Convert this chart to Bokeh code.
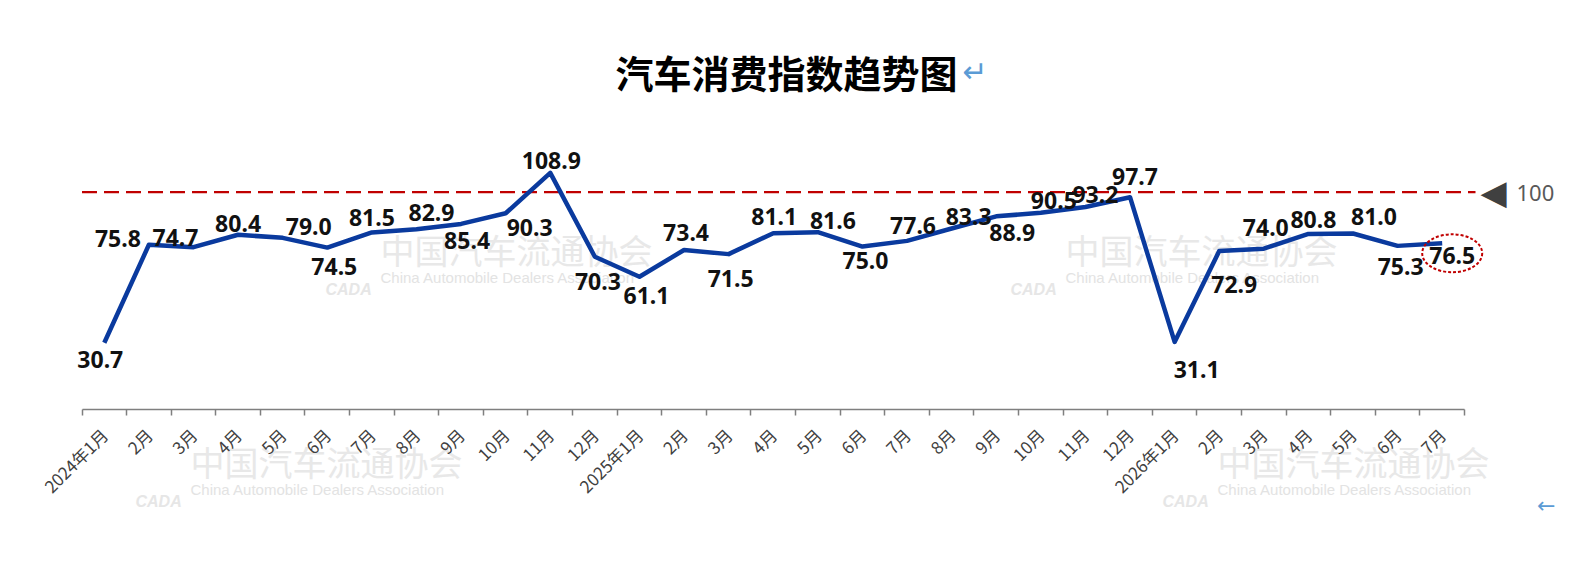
import math
from bokeh.plotting import figure
from bokeh.models import ColumnDataSource, Range1d, LinearAxis, FixedTicker, Label
from bokeh.core.properties import value
from bokeh.transform import dodge
from bokeh.embed import file_html
from bokeh.resources import INLINE

# ---------------- data ----------------
months = ["2024年1月", "2月", "3月", "4月", "5月", "6月", "7月", "8月", "9月", "10月", "11月", "12月",
          "2025年1月", "2月", "3月", "4月", "5月", "6月", "7月", "8月", "9月", "10月", "11月", "12月",
          "2026年1月", "2月", "3月", "4月", "5月", "6月", "7月"]
index_values = [30.7, 75.8, 74.7, 80.4, 79.0, 74.5, 81.5, 82.9, 85.4, 90.3, 108.9, 70.3,
                61.1, 73.4, 71.5, 81.1, 81.6, 75.0, 77.6, 83.3, 88.9, 90.5, 93.2, 97.7,
                31.1, 72.9, 74.0, 80.8, 81.0, 75.3, 76.5]
reference_value = 100
title_text = "汽车消费指数趋势图"
watermark_cn = "中国汽车流通协会"
watermark_en = "China Automobile Dealers Association"

# ---------------- label placement (screen px offsets) ----------------
label_dx = [-4, -31, -18, 0, 26, 7, 0, 15, 6, 24, 1, 3,
            7, 2, 2, 1, 15, 3, 6, 17, 16, 13, 10, 5,
            22, 15, 2, 5, 21, 3, 10]
label_dy = [17, -6, -10, -11, -11, 19, -15, -17, 17, 14, -12, 25,
            19, -18, 24, -17, -12, 14, -15, -12, 16, -12, -12, -21,
            28, 33, -21, -14, -17, 21, 12]

# ---------------- layout ----------------
W, H = 1556, 558
PLOT_LEFT, PLOT_RIGHT, AXIS_Y = 81.5, 1464, 409     # pixel geometry of the plot area
n = len(months)
PX_PER_CAT = (PLOT_RIGHT - PLOT_LEFT) / n
PX_PER_UNIT = 2.173

x_start = -0.5 - PLOT_LEFT / PX_PER_CAT
x_end = -0.5 + (W - PLOT_LEFT) / PX_PER_CAT
y_start = -(H - AXIS_Y) / PX_PER_UNIT
y_end = AXIS_Y / PX_PER_UNIT

p = figure(width=W, height=H, output_backend="svg", toolbar_location=None,
           x_range=Range1d(x_start, x_end), y_range=Range1d(y_start, y_end),
           x_axis_location=None, y_axis_location=None,
           min_border=0, min_border_left=0, min_border_right=0,
           min_border_top=0, min_border_bottom=0)
p.outline_line_color = None
p.xgrid.visible = False
p.ygrid.visible = False
p.background_fill_color = "white"
p.border_fill_color = "white"

xs = list(range(n))
src = ColumnDataSource(dict(x=xs, y=index_values,
                            label=[f"{v:.1f}" for v in index_values],
                            dx=label_dx, dy=label_dy))

def screen_label(px, py, text, **kw):
    p.add_layout(Label(x=px, y=H - py, x_units="screen", y_units="screen",
                       text=text, **kw))

# watermarks
for (cx, cy) in [(380, 249), (1065, 249), (190, 461), (1217, 461)]:
    screen_label(cx, cy, watermark_cn, text_font="Noto Sans CJK SC", text_font_size="34px",
                 text_color="#e8e8e8", text_align="left", text_baseline="middle", level="underlay")
    screen_label(cx, cy + 28, watermark_en, text_font="Liberation Sans", text_font_size="15px",
                 text_color="#e3e3e3", text_align="left", text_baseline="middle", level="underlay")
    screen_label(cx - 55, cy + 40, "CADA", text_font="Liberation Sans", text_font_size="16px",
                 text_font_style="bold italic", text_color="#e6e6e6",
                 text_align="left", text_baseline="middle", level="underlay")

# reference line at 100
p.segment(x0=[-0.5], x1=[n - 0.5 + 11 / PX_PER_CAT], y0=[reference_value], y1=[reference_value],
          line_color="#c00000", line_width=2.2, line_dash="15 7")

# main line
p.line("x", "y", source=src, line_color="#0a3a9e", line_width=4.5, line_join="round")

# data labels
p.text("x", "y", text="label", source=src, x_offset="dx", y_offset="dy",
       text_align="center", text_baseline="middle",
       text_font=value("Noto Sans"), text_font_style="bold", text_font_size="23px",
       text_color="#111111")

# highlight ellipse on latest value
last = ColumnDataSource(dict(x=[xs[-1]], y=[index_values[-1]]))
p.ellipse(x=dodge("x", 10 / PX_PER_CAT), y=dodge("y", -10 / PX_PER_UNIT), source=last,
          width=60, height=38, width_units="screen", height_units="screen",
          fill_color=None, line_color="#c00000", line_width=2, line_dash="3 2")

# bottom axis: labels at category centres, ticks at boundaries
ax = LinearAxis(ticker=FixedTicker(ticks=xs, minor_ticks=[i - 0.5 for i in range(n + 1)]),
                fixed_location=0, bounds=(-0.5, n - 0.5))
ax.major_label_overrides = {i: m for i, m in enumerate(months)}
ax.major_label_orientation = math.pi / 4
ax.major_label_text_font = "Noto Sans CJK SC"
ax.major_label_text_font_size = "17px"
ax.major_label_text_color = "#404040"
ax.major_label_standoff = 16
ax.major_tick_line_color = None
ax.major_tick_out = 6
ax.major_tick_in = 0
ax.minor_tick_line_color = "#7f7f7f"
ax.minor_tick_out = 6
ax.minor_tick_in = 0
ax.minor_tick_line_width = 1.5
ax.axis_line_color = "#7f7f7f"
ax.axis_line_width = 1.5
p.add_layout(ax, "below")

# title + marks
screen_label(615, 71, title_text, text_font="Noto Sans CJK SC", text_font_style="bold",
             text_font_size="38px", text_color="#000000", text_align="left", text_baseline="middle")
screen_label(962, 71, "↵", text_font="DejaVu Sans", text_font_size="30px",
             text_color="#5b9bd5", text_align="left", text_baseline="middle")
screen_label(1555, 505, "←", text_font="DejaVu Sans", text_font_size="22px",
             text_color="#5b9bd5", text_align="right", text_baseline="middle")

# right side marker for the 100 line
screen_label(1480, 191, "◀", text_font="DejaVu Sans", text_font_size="34px",
             text_color="#404040", text_align="left", text_baseline="middle")
screen_label(1516, 192, str(reference_value), text_font="Noto Sans", text_font_size="22px",
             text_color="#595959", text_align="left", text_baseline="middle")

open("out.html", "w").write(file_html(p, INLINE))
